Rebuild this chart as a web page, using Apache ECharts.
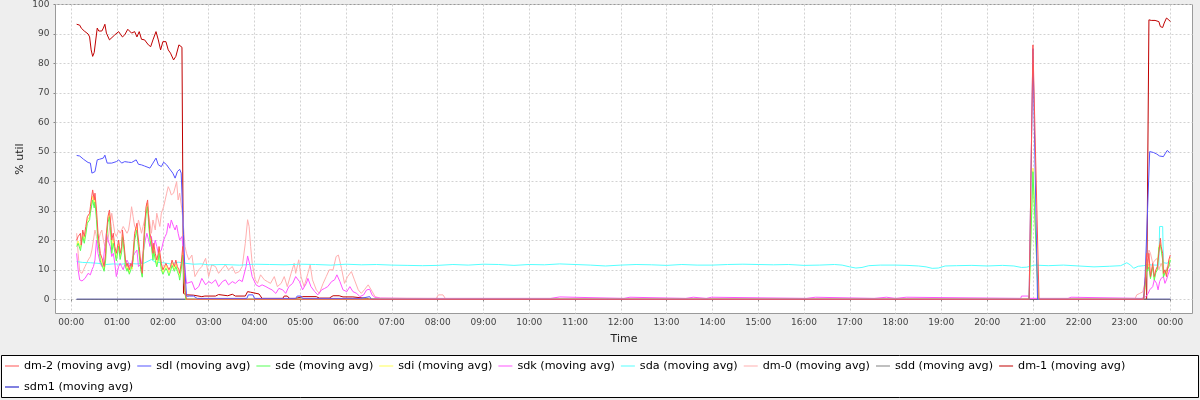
<!DOCTYPE html>
<html>
<head>
<meta charset="utf-8">
<script src="https://cdn.jsdelivr.net/npm/echarts@6/dist/echarts.min.js"></script>
<style>
html,body{margin:0;padding:0;background:#eeeeee;}
#chart{width:1200px;height:400px;}
</style>
</head>
<body>
<div id="chart"></div>
<script>
// ---- Data (x = minutes since 00:00, y = % util) ----
const seriesNames = ['dm-2 (moving avg)','sdl (moving avg)','sde (moving avg)','sdi (moving avg)','sdk (moving avg)','sda (moving avg)','dm-0 (moving avg)','sdd (moving avg)','dm-1 (moving avg)','sdm1 (moving avg)'];
const seriesColors = ['#ff5555','#5555ff','#55ff55','#ffff55','#ff55ff','#55ffff','#ffafaf','#808080','#c00000','#0000c0'];
const hourTicks = [0,60,120,180,240,300,360,420,480,540,600,660,720,780,840,900,960,1020,1080,1140,1200,1260,1320,1380,1440];
const yTicks = [0,10,20,30,40,50,60,70,80,90,100];

const dm2 = [[7,20.1],[9,21.3],[12,22.4],[13,18.4],[15,23.5],[17,21.3],[19,24.7],[21,28],[24,29.2],[25,31.4],[28,37.1],[30,33.7],[31,36],[33,30.3],[35,22.4],[37,17.9],[38,15.6],[41,13.3],[43,11.1],[45,15.6],[46,22.4],[48,28],[50,30.3],[52,24.7],[53,20.1],[55,22.4],[57,17.9],[59,15.6],[62,20.1],[64,15.6],[66,17.9],[67,23.5],[69,19],[71,13.3],[73,11.1],[74,12.2],[76,10],[78,12.2],[80,11.1],[81,15.6],[83,22.4],[86,25.8],[87,22.4],[89,17.9],[91,12.2],[93,8.8],[94,15.6],[96,24.7],[98,31.4],[100,33.7],[101,29.2],[103,22.4],[105,20.1],[107,15.6],[108,19],[110,15.6],[112,13.3],[114,15.6],[115,17.9],[118,12.2],[120,10],[122,11.1],[124,12.2],[126,11.1],[128,10],[130,11.1],[132,13.3],[134,12.8],[135,11.1],[137,13.3],[139,11.1],[141,10],[142,8.8],[144,12.2],[146,17.9],[148,9],[149,3],[151,0],[1255,0],[1260,86.3],[1262,86.3],[1268,0],[1405,0],[1407,5.4],[1409,15.6],[1410,10.2],[1412,15.6],[1414,7.7],[1417,12.2],[1419,7.7],[1421,10],[1423,11.1],[1425,15.6],[1427,20.7],[1428,17.9],[1430,15.6],[1431,8.8],[1433,10],[1435,7.7],[1438,13.3],[1440,15]];

const sdl = [[7,48.8],[11,48.6],[16,47.5],[22,46.4],[25,46.2],[27,42.8],[31,43.3],[34,47.3],[37,47.5],[42,47.9],[44,48.9],[47,46.2],[53,46.2],[59,46.7],[62,47.3],[66,46.2],[70,46.7],[75,46.5],[79,46.4],[85,47.3],[88,45.8],[92,45.6],[96,45.2],[103,44.5],[107,46.2],[111,47.9],[114,45.6],[118,45],[121,46.5],[125,45.6],[128,44.5],[133,42.8],[136,41.1],[139,43.3],[142,44.1],[144,42.8],[147,22],[149,9],[151,1],[155,1.1],[160,1.1],[165,0.3],[230,0.3],[232,1.5],[238,1.5],[240,0.3],[294,0.3],[296,1.1],[301,1.1],[303,0.3],[379,0.3],[381,0.9],[391,0.9],[393,0],[1255,0],[1260,85],[1262,85],[1266,0],[1405,0],[1407,7.7],[1413,50.1],[1418,49.8],[1422,49.3],[1426,48.6],[1428,48.2],[1431,48.4],[1433,49.3],[1436,50.5],[1439,49.8],[1440,50]];

const sde = [[7,17.9],[9,19],[12,16.5],[13,17],[15,21.3],[17,19],[19,22],[21,25.8],[24,27],[25,29.2],[28,33.7],[30,31],[31,33],[33,27],[35,19],[37,15.6],[38,13],[41,11],[43,9.5],[45,13.3],[46,20],[48,26],[50,28],[52,21],[53,15.6],[55,19],[57,16],[59,13],[62,18],[64,13.5],[66,16],[67,21],[69,17],[71,11],[73,9.5],[74,10.5],[76,8.5],[78,10],[80,9.5],[81,13.3],[83,20],[86,23.5],[87,20],[89,15],[91,10],[93,7.5],[94,13],[96,22],[98,29],[100,31.4],[101,27],[103,20],[105,17.9],[107,13.3],[108,16.5],[110,13.3],[112,11],[114,13.3],[115,15.6],[118,10],[120,8.5],[122,9.5],[124,10.5],[126,9.5],[128,8],[130,9.5],[132,11.5],[134,11],[135,9.5],[137,11.1],[139,9.5],[141,8],[142,6.5],[144,10],[146,15],[148,5],[150,0],[1255,0],[1260,43.3],[1261,43.3],[1267,0],[1405,0],[1407,4],[1409,12],[1410,9.5],[1412,11],[1414,7],[1417,11],[1419,6.5],[1421,9],[1423,10],[1425,17.5],[1427,18.5],[1428,18],[1430,13.3],[1431,7.5],[1433,9],[1435,8.8],[1438,11],[1440,13.3]];

const sdi = [[7,18.5],[9,19.8],[12,17.5],[13,17.5],[15,22],[17,20],[19,23],[21,26.8],[24,28],[25,30],[28,35],[30,32],[31,34.5],[33,28.5],[35,20.5],[37,16.5],[38,14],[41,12],[43,10],[45,14],[46,21],[48,27],[50,29],[52,22.5],[53,17],[55,20.5],[57,17],[59,14],[62,19],[64,14.5],[66,17],[67,22],[69,18],[71,12],[73,10],[74,11],[76,9],[78,11],[80,10.2],[81,14],[83,21],[86,24.5],[87,21],[89,16],[91,11],[93,8],[94,14],[96,23],[98,30],[100,32.5],[101,28],[103,21],[105,18.8],[107,14.5],[108,17.5],[110,14.5],[112,12],[114,14.5],[115,16.5],[118,11],[120,9],[122,10],[124,11.5],[126,10.2],[128,9],[130,10.2],[132,12.5],[134,12],[135,10.2],[137,12],[139,10.2],[141,9],[142,7.5],[144,11],[146,16],[148,6],[150,0],[1255,0],[1260,44.5],[1261,44.5],[1267,0],[1405,0],[1407,4.8],[1409,13],[1410,10],[1412,12],[1414,7.5],[1417,11.5],[1419,7],[1421,9.5],[1423,10.5],[1425,18],[1427,19],[1428,18.5],[1430,14],[1431,8],[1433,9.5],[1435,8.5],[1438,12],[1440,14]];

const sdk = [[7,15.6],[9,10],[11,6.6],[14,6.2],[16,6.8],[18,7.1],[20,7.7],[22,8.8],[25,8.3],[27,10],[29,11.1],[31,13.3],[33,20.1],[35,15.6],[38,12.2],[40,11.1],[42,13.3],[44,17.9],[46,22.4],[48,20.1],[51,17.9],[53,14.5],[55,15.6],[57,12.2],[59,7.7],[62,11.1],[64,12.2],[66,11.1],[68,10],[70,11.7],[73,13.3],[75,12.2],[77,11.1],[79,12.2],[81,14.5],[83,15.6],[86,16.7],[88,11.1],[90,11.1],[92,12.2],[94,15.6],[97,20.1],[99,22.4],[101,20.4],[103,17.9],[105,21.3],[107,16.7],[110,20.1],[112,17.9],[114,15.6],[116,15.6],[118,16.7],[121,20.1],[123,21.3],[125,22.4],[127,25.8],[129,24.1],[131,26.9],[134,24.7],[136,23.5],[138,25.2],[140,22.4],[142,20.1],[145,21.3],[147,15.6],[149,10],[151,5.4],[153,5.4],[158,6],[162,3.2],[167,4.3],[171,7.1],[176,4.9],[180,6],[184,5.4],[189,6.6],[193,4.3],[198,6],[202,6.6],[206,4.9],[211,6],[215,5.4],[220,6.6],[224,6],[229,11.1],[231,14.7],[234,11.7],[237,7.7],[242,4.9],[246,4.3],[250,4.9],[255,4.3],[259,3.7],[263,3.2],[268,2],[272,3.7],[277,3.2],[281,2],[285,4.3],[290,5.4],[294,7.7],[299,6],[303,3.2],[308,5.4],[310,7.1],[314,4.3],[319,2.6],[323,1.5],[328,3.2],[332,3.7],[336,4.3],[341,6],[345,6.6],[348,8.3],[352,6],[356,3.2],[361,2.6],[365,4.3],[369,2.6],[374,2],[378,0.9],[383,1.5],[387,3.2],[391,3.4],[394,1.5],[398,0.6],[405,0.4],[440,0.3],[628,0.3],[629,0.8],[640,0.8],[641,0.3],[724,0.3],[725,0.7],[732,0.7],[733,0.3],[805,0.3],[806,0.7],[815,0.7],[816,0.3],[832,0.3],[833,0.7],[839,0.7],[840,0.3],[963,0.3],[964,0.7],[975,0.7],[976,0.3],[1052,0.3],[1053,0.7],[1068,0.7],[1069,0.3],[1080,0.3],[1081,0.7],[1094,0.7],[1095,0.3],[1244,0.3],[1245,1.1],[1254,1.1],[1255,0.3],[1306,0.3],[1307,0.7],[1310,0.7],[1311,0.3],[1402,0.3],[1404,0.9],[1408,0.9],[1411,2],[1413,3.2],[1417,4.3],[1419,6.6],[1422,5.4],[1424,3.2],[1426,6],[1428,7.1],[1431,7.7],[1433,5.4],[1435,6.6],[1437,8.3],[1440,10.5]];

const sda = [[7,12.8],[15,12.5],[25,12.4],[35,12.2],[45,11.8],[55,12],[65,11.9],[75,12.2],[85,12],[95,12.2],[105,13.5],[110,12.6],[120,12.4],[130,12],[140,12.6],[150,12.2],[160,11.9],[170,12],[180,11.7],[200,11.8],[220,11.6],[240,11.9],[260,11.8],[280,11.7],[300,11.9],[320,11.8],[340,11.6],[360,11.9],[380,11.7],[400,11.8],[420,11.6],[440,11.5],[460,11.4],[480,11.5],[500,11.8],[520,11.6],[540,11.9],[560,11.8],[580,11.5],[600,11.8],[620,11.7],[640,12],[660,11.8],[680,11.6],[700,11.3],[720,11.6],[740,11.8],[760,11.7],[780,11.5],[800,11.8],[820,11.6],[840,11.6],[860,11.8],[880,11.9],[900,11.8],[920,11.7],[940,11.8],[960,11.5],[980,11.6],[1000,11.8],[1010,11.6],[1020,11],[1028,10.6],[1036,10.8],[1045,11.4],[1060,11.6],[1080,11.6],[1095,11.5],[1110,11.3],[1120,11],[1128,10.5],[1136,10.6],[1145,11.3],[1160,11.4],[1180,11.5],[1200,11.3],[1220,11.5],[1235,11.3],[1245,10.8],[1252,10.9],[1262,11.6],[1280,11.4],[1300,11.6],[1320,11.3],[1340,11],[1360,11.2],[1375,11.4],[1383,12.4],[1388,11.6],[1392,10.5],[1398,11.2],[1405,11.4],[1412,11.7],[1420,11.6],[1425,11.6],[1426,24.7],[1430,24.7],[1431,12.4],[1436,12.2],[1440,13.3]];

const dm0 = [[7,22.4],[9,15.6],[11,9.4],[14,8.8],[16,10],[18,11.1],[20,12.2],[22,13.3],[25,14.5],[27,16.7],[29,20.1],[31,23.5],[33,21.3],[35,19],[38,22.4],[40,23.5],[42,20.1],[44,17.9],[46,19],[48,20.1],[51,25.8],[53,29.2],[55,25.8],[57,22.4],[59,21.3],[62,23.5],[64,22.4],[66,23.5],[68,24.7],[70,24.7],[73,22.4],[75,23.5],[77,26.9],[79,31.4],[81,28],[83,24.7],[86,23.5],[88,26.9],[90,24.7],[92,22.4],[94,24.7],[97,28],[99,32.6],[101,29.2],[103,25.8],[105,22.4],[107,26.9],[110,23.5],[112,29.2],[114,26.9],[116,24.7],[118,29.2],[121,31.4],[123,33.7],[125,36],[127,38.2],[129,37.1],[131,35.4],[134,36],[136,36.5],[138,39.9],[140,33.7],[142,36],[145,30.3],[147,24.7],[149,17.9],[151,15.6],[154,13.4],[158,15],[162,7.7],[167,10],[171,11.1],[176,13.9],[180,7.7],[184,11.7],[189,11.1],[193,8.8],[198,10.5],[202,11.7],[206,10],[211,11.1],[215,8.8],[220,9.4],[224,11.1],[228,19],[231,27],[233,24.7],[235,17.9],[237,12.2],[241,6.6],[244,5.4],[248,8.3],[253,6.6],[257,6],[261,5.4],[266,7.7],[270,4.3],[275,5.4],[279,7.7],[283,4.3],[288,8.8],[292,12.2],[294,8.8],[298,13.4],[301,7.7],[305,4.3],[310,8.8],[313,11.7],[316,6.6],[321,3.2],[325,2],[330,5.4],[334,7.7],[338,10],[343,10],[347,14.5],[350,15],[354,10.5],[358,5.4],[362,7.7],[367,9.4],[371,6.6],[376,3.2],[380,2],[384,3.2],[389,4.9],[393,3.2],[398,0.9],[405,0.4],[478,0.3],[481,1.5],[487,1.5],[490,0.3],[1394,0.3],[1396,1.5],[1400,2],[1404,2.5],[1407,6],[1409,13.3],[1411,14.5],[1412,16.7],[1414,15.6],[1417,12.2],[1420,13.3],[1423,13.9],[1425,10],[1428,12.2],[1431,10],[1433,8.8],[1436,11],[1440,11.5]];

const sdd = [[7,0],[1440,0]];

const dm1 = [[7,93.3],[11,93],[13,92],[17,91],[22,90],[24,89],[26,84.6],[28,82.4],[30,83.7],[32,84],[34,92],[36,91],[40,91],[42,92],[44,93.3],[46,90.3],[50,88],[52,88.6],[57,89.7],[62,90.8],[65,89.7],[67,89],[70,89.7],[74,91.6],[79,90.3],[83,90.8],[86,89],[89,90.8],[92,88.2],[96,88],[101,86.3],[104,85.7],[107,88],[111,90.8],[114,88],[117,84.6],[120,87.4],[124,87.4],[127,84.6],[130,83.5],[134,81.2],[137,82.4],[141,86.3],[143,85.7],[145,85.5],[147,2],[151,1.5],[160,1.4],[162,0.9],[171,0.9],[175,1.1],[189,1.1],[193,1.6],[205,1.2],[211,1.7],[215,1.1],[228,1.1],[231,2.6],[235,2.4],[237,1.8],[246,1.8],[250,0.3],[277,0.3],[279,1.1],[283,1.1],[286,0.3],[294,0.3],[303,0.9],[321,0.9],[325,0.4],[338,0.4],[343,1.2],[351,1.2],[356,0.8],[369,0.8],[371,0.3],[387,0.3],[391,0],[1409,0],[1412,94.8],[1415,94.6],[1420,94.6],[1422,95],[1425,94.2],[1427,92.5],[1430,92.2],[1432,93.7],[1435,95.4],[1438,94.8],[1440,94.2]];

const sdm1 = [[7,0],[1440,0]];

const seriesData = [dm2, sdl, sde, sdi, sdk, sda, dm0, sdd, dm1, sdm1];

// ---- Chart ----
const chart = echarts.init(document.getElementById('chart'), null, {renderer: 'canvas'});
const tickFont = {fontFamily: 'DejaVu Sans', fontSize: 9, color: '#444'};
const gridLine = {show: true, lineStyle: {color: '#d2d2d2', type: [2, 2], width: 1}};

function hhmm(v) {
  const h = Math.round(v / 60) % 24;
  return (h < 10 ? '0' : '') + h + ':00';
}

const option = {
  animation: false,
  backgroundColor: '#eeeeee',
  grid: [
    {left: 71.3, right: 29.7, top: 4.5, bottom: 86.5, show: false},
    {left: 55.5, right: 7.5, top: 4.5, bottom: 100.7, show: false},
    {left: 55.5, right: 7.5, top: 4.5, bottom: 86.5, show: true,
     backgroundColor: '#ffffff', borderColor: '#9a9a9a', borderWidth: 1}
  ],
  xAxis: [
    {gridIndex: 0, type: 'value', min: hourTicks[0], max: hourTicks[hourTicks.length - 1], interval: 60,
     axisLine: {show: false},
     axisTick: {show: true, length: 2, lineStyle: {color: '#888'}},
     axisLabel: Object.assign({formatter: hhmm, interval: 0, margin: 5, hideOverlap: false}, tickFont),
     splitLine: gridLine},
    {gridIndex: 1, type: 'value', min: 0, max: 1, show: false},
    {gridIndex: 2, type: 'value', min: 0, max: 1, name: 'Time', nameLocation: 'middle', nameGap: 20,
     nameTextStyle: {fontFamily: 'DejaVu Sans', fontSize: 11, color: '#222'},
     axisLine: {show: false}, axisTick: {show: false}, axisLabel: {show: false}, splitLine: {show: false}}
  ],
  yAxis: [
    {gridIndex: 0, type: 'value', min: -4.82, max: 100, show: false},
    {gridIndex: 1, type: 'value', min: yTicks[0], max: yTicks[yTicks.length - 1], interval: 10,
     axisLine: {show: false},
     axisTick: {show: true, length: 2, lineStyle: {color: '#888'}},
     axisLabel: Object.assign({margin: 6}, tickFont),
     splitLine: gridLine},
    {gridIndex: 2, type: 'value', min: 0, max: 1, name: '% util', nameLocation: 'middle', nameGap: 30, nameRotate: 90,
     nameTextStyle: {fontFamily: 'DejaVu Sans', fontSize: 11, color: '#222'},
     axisLine: {show: false}, axisTick: {show: false}, axisLabel: {show: false}, splitLine: {show: false}}
  ],
  graphic: [
    {type: 'rect', z: 0, silent: true,
     shape: {x: 1.5, y: 355.5, width: 1197, height: 42},
     style: {fill: '#ffffff', stroke: '#000000', lineWidth: 1}}
  ],
  legend: {
    left: 5, top: 358.5, width: 1188, padding: 0,
    itemWidth: 14, itemHeight: 15, itemGap: 6,
    icon: 'path://M0,0 L14,0 L14,1 L0,1 Z',
    textStyle: {fontFamily: 'DejaVu Sans', fontSize: 11.2, lineHeight: 15, color: '#000'},
    data: seriesNames
  },
  series: seriesNames.map((name, i) => ({
    name: name,
    type: 'line',
    xAxisIndex: 0,
    yAxisIndex: 0,
    data: seriesData[i],
    symbol: 'none',
    showSymbol: false,
    smooth: false,
    z: 20 - i,
    color: seriesColors[i],
    lineStyle: {width: 1, color: seriesColors[i]},
    emphasis: {disabled: true}
  }))
};
chart.setOption(option);
</script>
</body>
</html>
